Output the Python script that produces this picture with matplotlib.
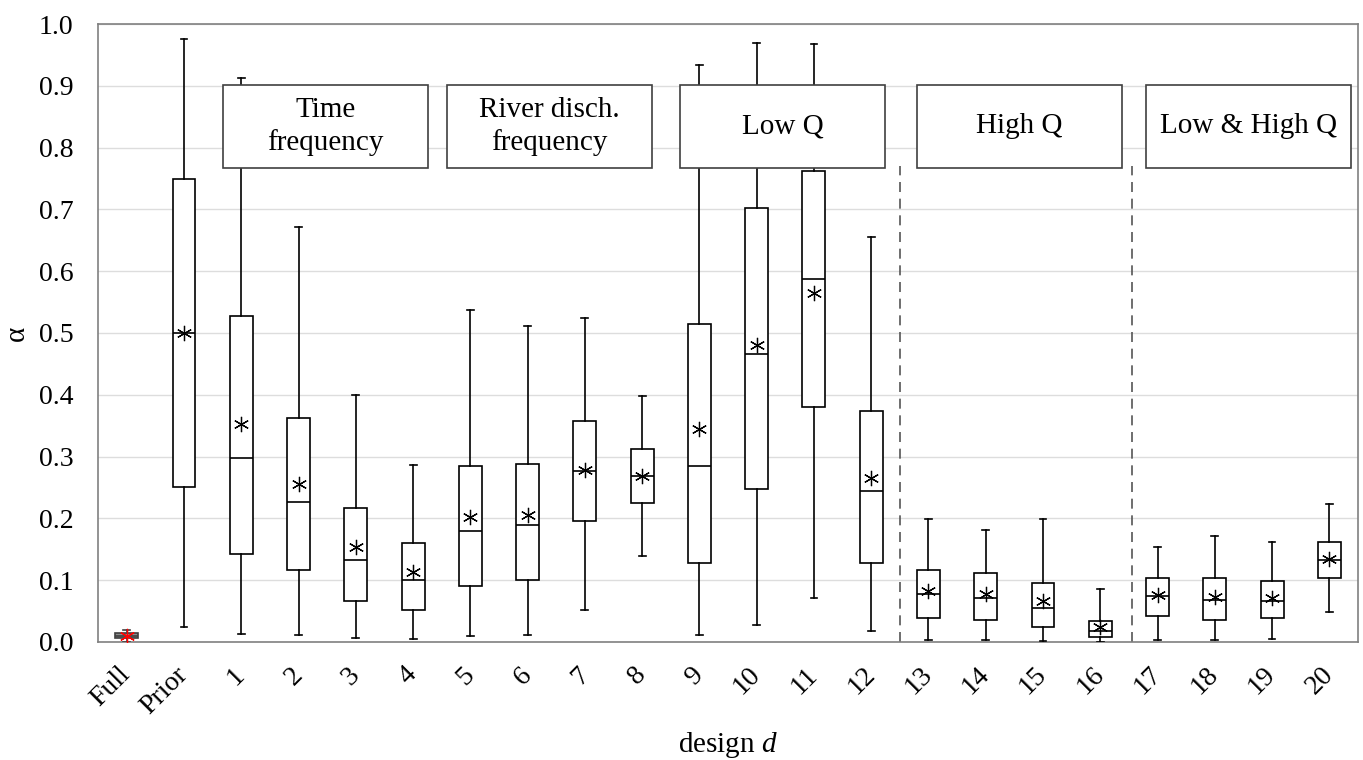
import numpy as np
import matplotlib.pyplot as plt

plt.rcParams['font.family'] = ['Liberation Serif', 'DejaVu Serif']
plt.rcParams['mathtext.fontset'] = 'custom'
plt.rcParams['mathtext.it'] = 'Liberation Serif:italic'

labels = ["Full", "Prior"] + [str(i) for i in range(1, 21)]
whislo = [0.000, 0.025, 0.013, 0.012, 0.006, 0.005, 0.009, 0.011, 0.052, 0.139, 0.012, 0.028,
          0.071, 0.017, 0.003, 0.003, 0.001, 0.000, 0.003, 0.003, 0.005, 0.048]
q1 = [0.0065, 0.250, 0.142, 0.117, 0.067, 0.052, 0.091, 0.101, 0.195, 0.225, 0.127, 0.247,
      0.381, 0.128, 0.039, 0.036, 0.025, 0.008, 0.042, 0.035, 0.039, 0.104]
med = [0.010, 0.500, 0.297, 0.226, 0.132, 0.101, 0.179, 0.190, 0.277, 0.268, 0.284, 0.466,
       0.587, 0.245, 0.078, 0.071, 0.055, 0.018, 0.074, 0.068, 0.066, 0.133]
q3 = [0.0146, 0.750, 0.528, 0.363, 0.217, 0.160, 0.285, 0.288, 0.357, 0.313, 0.514, 0.702,
      0.762, 0.374, 0.117, 0.112, 0.096, 0.034, 0.104, 0.104, 0.099, 0.162]
whishi = [0.019, 0.975, 0.913, 0.672, 0.400, 0.287, 0.537, 0.512, 0.525, 0.398, 0.933, 0.969,
          0.967, 0.656, 0.199, 0.181, 0.199, 0.086, 0.154, 0.171, 0.162, 0.223]
means = [0.010, 0.500, 0.353, 0.256, 0.153, 0.113, 0.203, 0.206, 0.278, 0.268, 0.344, 0.480,
         0.564, 0.265, 0.082, 0.077, 0.067, 0.024, 0.076, 0.073, 0.071, 0.135]

groups = ["Time\nfrequency", "River disch.\nfrequency", "Low Q", "High Q", "Low & High Q"]
group_x0 = [1.68, 5.59, 9.66, 13.80, 17.80]
group_w = 3.58
dividers = [13.5, 17.55]

fig = plt.figure(figsize=(13.63, 7.6), dpi=100)
ax = fig.add_axes([0.072, 0.1553, 0.9243, 0.8131])

pos = np.arange(len(labels))
stats = []
for i in range(len(labels)):
    stats.append(dict(label=labels[i], whislo=whislo[i], q1=q1[i], med=med[i],
                      q3=q3[i], whishi=whishi[i], mean=means[i], fliers=[]))

lw = 1.2
ax.bxp(stats[1:], positions=pos[1:], widths=0.4, capwidths=0.12, showmeans=True,
       patch_artist=True, showfliers=False,
       boxprops=dict(facecolor='white', edgecolor='black', linewidth=lw),
       medianprops=dict(color='black', linewidth=lw),
       whiskerprops=dict(color='black', linewidth=lw),
       capprops=dict(color='black', linewidth=lw),
       meanprops=dict(marker=(6, 2, 0), markersize=11, markeredgecolor='black',
                      markerfacecolor='black', markeredgewidth=0.9),
       zorder=3)
ax.bxp(stats[:1], positions=pos[:1], widths=0.4, capwidths=0.12, showmeans=True,
       patch_artist=True, showfliers=False,
       boxprops=dict(facecolor='#8c8c8c', edgecolor='#404040', linewidth=lw),
       medianprops=dict(color='#404040', linewidth=lw),
       whiskerprops=dict(color='#404040', linewidth=lw),
       capprops=dict(color='#404040', linewidth=lw),
       meanprops=dict(marker=(6, 2, 0), markersize=11, markeredgecolor='red',
                      markerfacecolor='red', markeredgewidth=0.9),
       zorder=3)

for d in dividers:
    ax.plot([d, d], [0, 0.77], color='#555555', linestyle=(0, (6, 4)), linewidth=1.2, zorder=2)

for g, x0 in zip(groups, group_x0):
    ax.add_patch(plt.Rectangle((x0, 0.767), group_w, 0.135, facecolor='white',
                               edgecolor='#404040', linewidth=1.2, zorder=5))
    ax.text(x0 + group_w / 2, 0.767 + 0.135 / 2, g, ha='center', va='center',
            fontsize=21, zorder=6, linespacing=1.3)

ax.set_xlim(-0.5, len(labels) - 0.5)
ax.set_ylim(0, 1.0)
ax.set_yticks(np.arange(0, 1.01, 0.1))
ax.set_yticklabels([f"{v:.1f}" for v in np.arange(0, 1.01, 0.1)], fontsize=20)
ax.set_xticks(pos)
ax.set_xticklabels(labels, rotation=45, ha='right', va='center',
                   rotation_mode='anchor', fontsize=20)
ax.tick_params(axis='both', length=0)
ax.tick_params(axis='y', pad=18)
ax.tick_params(axis='x', pad=21)
ax.yaxis.grid(True, color='#dddddd', linewidth=1.0, zorder=0)
ax.set_axisbelow(True)
for s in ax.spines.values():
    s.set_color('#808080')
    s.set_linewidth(1.2)
ax.set_ylabel("α", fontsize=21, labelpad=6)
ax.set_xlabel("design $d$", fontsize=21, va='center')
ax.xaxis.set_label_coords(0.5, -0.167)

fig.savefig("out.png", dpi=100)
